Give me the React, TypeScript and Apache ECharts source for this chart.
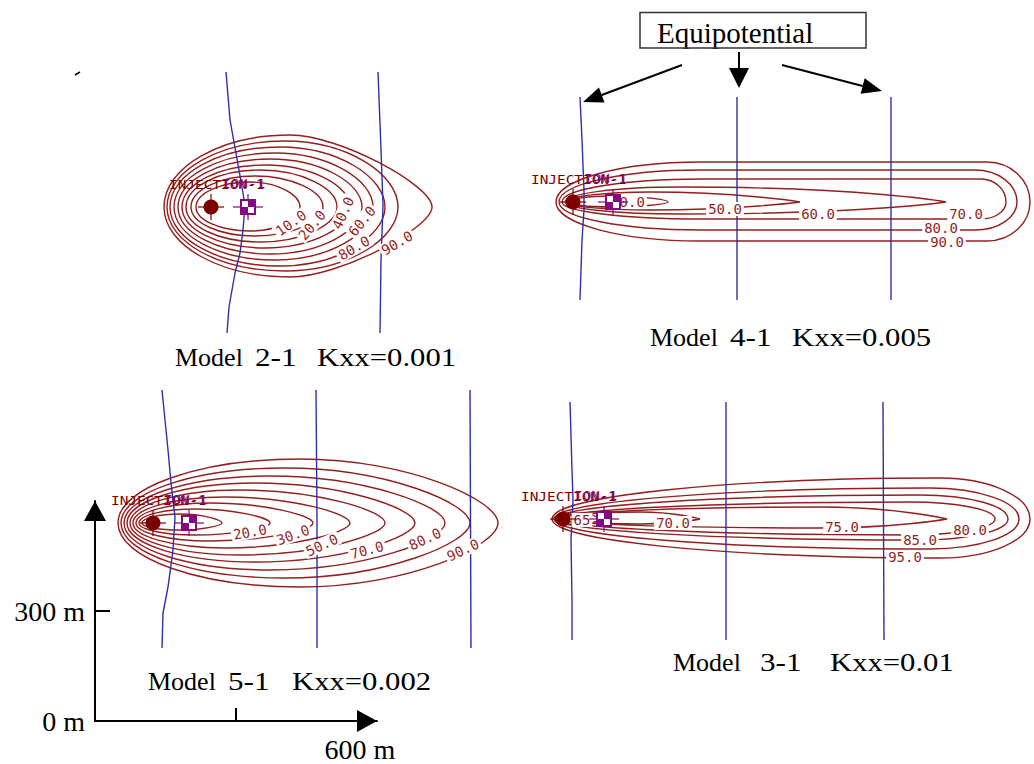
import React, { useEffect, useRef } from "react";
import * as echarts from "echarts";

// ---------- data (metres, measured from each model's injection well) ----------
// contour rows: [level, xLeft, xRight, yTop, yBottom, xCrest, xFlatEnd, capX, capY]
const contours21 = [
  [10, -30, 178, 50, -48, 78, 78, 0.55, 0.5],
  [20, -40, 224, 62, -58, 88, 88, 0.55, 0.5],
  [30, -50, 252, 74, -70, 98, 98, 0.55, 0.5],
  [40, -58, 278, 84, -82, 108, 108, 0.55, 0.5],
  [50, -66, 302, 96, -94, 118, 118, 0.55, 0.5],
  [60, -74, 324, 108, -106, 128, 128, 0.55, 0.5],
  [70, -82, 348, 120, -118, 138, 138, 0.55, 0.5],
  [80, -88, 374, 132, -128, 148, 148, 0.55, 0.5],
  [90, -94, 442, 144, -140, 158, 158, 0.35, 0.3],
];
const labelText21 = ["10.0", "20.0", "40.0", "60.0", "80.0", "90.0"];
const labelPos21 = [
  [160, -32, 35], [202, -36, 50], [264, -12, 65], [302, -28, 50], [286, -82, 30], [372, -72, 30],
];
const equip21 = [
  [[30, 270], [38, 174], [56, 74], [68, 4], [64, -46], [58, -92], [48, -132], [36, -200], [32, -252]],
  [[334, 270], [340, 114], [344, 4], [340, -106], [338, -252]],
];
const producer21 = [74, 0];

const contours41 = [
  [90, -34, 914, 80, -78, 254, 828, 0.552, 0.552],
  [80, -28, 888, 64, -56, 254, 804, 0.552, 0.552],
  [70, -22, 866, 46, -34, 254, 816, 0.552, 0.552],
  [60, -16, 746, 30, -24, 214, 214, 0.7, 0],
  [50, -12, 454, 20, -16, 154, 154, 0.6, 0],
  [40, -6, 190, 12, -10, 74, 74, 0.55, 0.4],
];
const labelText41 = ["40.0", "50.0", "60.0", "70.0", "80.0", "90.0"];
const labelPos41 = [
  [110, 0, 0], [304, -14, 0], [490, -24, 0], [786, -24, 0], [736, -52, 0], [748, -80, 0],
];
const equip41 = [
  [[14, 210], [18, 124], [22, 24], [22, -16], [18, -76], [14, -196]],
  [[328, 210], [328, -196]],
  [[636, 210], [636, -196]],
];
const producer41 = [80, 0];

const contours51 = [
  [10, -22, 138, 18, -14, 54, 54, 0.55, 0.35],
  [20, -28, 234, 28, -24, 84, 84, 0.55, 0.35],
  [30, -34, 320, 40, -36, 114, 114, 0.55, 0.35],
  [40, -40, 394, 52, -50, 144, 144, 0.55, 0.35],
  [50, -46, 464, 66, -64, 174, 174, 0.55, 0.35],
  [60, -52, 524, 80, -78, 204, 204, 0.55, 0.35],
  [70, -58, 584, 94, -94, 234, 234, 0.55, 0.35],
  [80, -64, 634, 110, -110, 264, 264, 0.55, 0.35],
  [90, -70, 690, 128, -128, 294, 294, 0.55, 0.35],
];
const labelText51 = ["20.0", "30.0", "50.0", "70.0", "80.0", "90.0"];
const labelPos51 = [
  [194, -18, 10], [280, -24, 20], [338, -44, 25], [428, -54, 15], [544, -32, 25], [620, -54, 25],
];
const equip51 = [
  [[18, 266], [30, 146], [36, 80], [44, 12], [40, -54], [30, -128], [20, -180], [18, -250]],
  [[326, 266], [328, 6], [328, -250]],
  [[634, 266], [636, -250]],
];
const producer51 = [72, 0];

const contours31 = [
  [95, -22, 934, 82, -78, 754, 754, 0.552, 0.552],
  [90, -18, 912, 62, -60, 734, 734, 0.552, 0.552],
  [85, -14, 890, 48, -42, 714, 714, 0.552, 0.552],
  [80, -10, 864, 34, -32, 694, 694, 0.552, 0.552],
  [75, -6, 768, 24, -18, 514, 514, 0.6, 0],
  [70, -2, 274, 14, -10, 154, 154, 0.6, 0],
  [65, -16, 70, 12, -12, 24, 24, 0.55, 0.5],
];
const labelText31 = ["65", "70.0", "75.0", "80.0", "85.0", "95.0"];
const labelPos31 = [
  [38, -2, 0], [220, -8, 0], [558, -16, 0], [814, -22, 0], [714, -42, 0], [684, -76, 0],
];
const equip31 = [
  [[14, 234], [18, 98], [20, 38], [16, -42], [18, -162], [18, -242]],
  [[326, 234], [326, -242]],
  [[640, 234], [642, -242]],
];
const producer31 = [82, 0];

const titleParts = [
  ["Model", "2-1", "Kxx=0.001"],
  ["Model", "4-1", "Kxx=0.005"],
  ["Model", "5-1", "Kxx=0.002"],
  ["Model", "3-1", "Kxx=0.01"],
];

// scale bar
const scaleTicks = [300];
const scaleXLabels = [600];
const scaleYLabels = [0, 300];

// ---------- styling ----------
const CONTOUR = "#931f1f";
const EQUIP = "#2f2fa8";
const WELL_RED = "#7d0000";
const WELL_PURPLE = "#84087f";
const SERIF = '"Liberation Serif", "Times New Roman", serif';
const MONO = '"DejaVu Sans Mono", monospace';

const panels = [
  { contours: contours21, labelText: labelText21, labelPos: labelPos21, equip: equip21, producer: producer21,
    grid: { left: 151, top: 57, width: 300, height: 285 }, x: [-120, 480], y: [-270, 300] },
  { contours: contours41, labelText: labelText41, labelPos: labelPos41, equip: equip41, producer: producer41,
    grid: { left: 518, top: 82, width: 515, height: 230 }, x: [-110, 920], y: [-220, 240] },
  { contours: contours51, labelText: labelText51, labelPos: labelPos51, equip: equip51, producer: producer51,
    grid: { left: 98, top: 383, width: 430, height: 270 }, x: [-110, 750], y: [-260, 280] },
  { contours: contours31, labelText: labelText31, labelPos: labelPos31, equip: equip31, producer: producer31,
    grid: { left: 508, top: 399, width: 525, height: 245 }, x: [-110, 940], y: [-250, 240] },
];

const K = 0.552;

function contourItem(_params: any, api: any) {
  const L = api.coord([api.value(1), 0]);
  const R = api.coord([api.value(2), 0]);
  const T = api.coord([api.value(5), api.value(3)]);
  const Bt = api.coord([api.value(5), api.value(4)]);
  const E = api.coord([api.value(6), 0]);
  const capX = api.value(7);
  const capY = api.value(8);
  const yc = L[1], xl = L[0], xr = R[0], xm = T[0];
  const xe = Math.max(E[0], xm);
  const yt = T[1], yb = Bt[1];
  const ht = yc - yt, hb = yb - yc;
  const cx = xe + capX * (xr - xe);
  const d = [
    `M${xl},${yc}`,
    `C${xl},${yc - K * ht} ${xm - K * (xm - xl)},${yt} ${xm},${yt}`,
    `L${xe},${yt}`,
    `C${cx},${yt} ${xr},${yc - capY * ht} ${xr},${yc}`,
    `C${xr},${yc + capY * hb} ${cx},${yb} ${xe},${yb}`,
    `L${xm},${yb}`,
    `C${xm - K * (xm - xl)},${yb} ${xl},${yc + K * hb} ${xl},${yc}`,
    "Z",
  ].join(" ");
  return {
    type: "path",
    shape: { pathData: d },
    style: { fill: "none", stroke: CONTOUR, lineWidth: 1.4 },
  };
}

function labelItem(texts: string[]) {
  return (params: any, api: any) => {
    const p = api.coord([api.value(0), api.value(1)]);
    return {
      type: "text",
      x: p[0],
      y: p[1],
      rotation: (api.value(2) * Math.PI) / 180,
      style: {
        text: texts[params.dataIndex],
        fill: CONTOUR,
        font: `14px ${MONO}`,
        align: "center",
        textAlign: "center",
        verticalAlign: "middle",
        textVerticalAlign: "middle",
        backgroundColor: "#fff",
        padding: [0, 2],
      },
    };
  };
}

function wellItem(_params: any, api: any) {
  const a = api.coord([0, 0]);
  const b = api.coord([api.value(0), api.value(1)]);
  const ln = (x1: number, y1: number, x2: number, y2: number, c: string) => ({
    type: "line",
    shape: { x1, y1, x2, y2 },
    style: { stroke: c, lineWidth: 1.2 },
  });
  const tx = a[0] - 42;
  const ty = a[1] - 22;
  return {
    type: "group",
    children: [
      ln(a[0] - 13, a[1], a[0] + 13, a[1], WELL_RED),
      ln(a[0], a[1] - 13, a[0], a[1] + 13, WELL_RED),
      { type: "circle", shape: { cx: a[0], cy: a[1], r: 7.5 }, style: { fill: WELL_RED } },
      ln(b[0] - 15, b[1], b[0] + 15, b[1], WELL_PURPLE),
      ln(b[0], b[1] - 13, b[0], b[1] + 13, WELL_PURPLE),
      { type: "rect", shape: { x: b[0] - 8, y: b[1] - 8, width: 16, height: 16 }, style: { fill: WELL_PURPLE } },
      { type: "rect", shape: { x: b[0] - 6, y: b[1] - 6, width: 6, height: 6 }, style: { fill: "#fff" } },
      { type: "rect", shape: { x: b[0], y: b[1], width: 6, height: 6 }, style: { fill: "#fff" } },
      {
        type: "text", x: tx, y: ty, scaleX: 1.2,
        style: { text: "INJECTION-1", fill: WELL_RED, font: `12px ${MONO}`, verticalAlign: "middle", textVerticalAlign: "middle" },
      },
      {
        type: "text", x: tx + 6 * 7.22 * 1.2 + 1, y: ty - 1, scaleX: 1.2,
        style: { text: "ION-1", fill: WELL_PURPLE, font: `12px ${MONO}`, verticalAlign: "middle", textVerticalAlign: "middle" },
      },
    ],
  };
}

function arrow(x1: number, y1: number, x2: number, y2: number, len: number, wid: number) {
  const dx = x2 - x1, dy = y2 - y1;
  const n = Math.hypot(dx, dy);
  const ux = dx / n, uy = dy / n;
  const bx = x2 - ux * len, by = y2 - uy * len;
  const px = -uy * (wid / 2), py = ux * (wid / 2);
  return [
    { type: "line", shape: { x1, y1, x2: bx, y2: by }, style: { stroke: "#000", lineWidth: 2 } },
    { type: "polygon", shape: { points: [[x2, y2], [bx + px, by + py], [bx - px, by - py]] }, style: { fill: "#000" } },
  ];
}

function serifText(text: string, x: number, y: number, size: number, sx = 1) {
  return {
    type: "text", x, y, scaleX: sx,
    style: {
      text, fill: "#000", font: `${size}px ${SERIF}`,
      align: "left", textAlign: "left", verticalAlign: "middle", textVerticalAlign: "middle",
    },
  };
}

// title word positions: [xModel, xRun, xKxx, yCenter]
const titleLayout = [
  [175, 255, 317, 357],
  [650, 730, 792, 337],
  [148, 228, 292, 681],
  [673, 760, 830, 662],
];

export default function App() {
  const ref = useRef<HTMLDivElement>(null);

  useEffect(() => {
    if (!ref.current) return;
    const chart = echarts.init(ref.current, undefined, { renderer: "svg" });

    const grids: any[] = panels.map((p) => ({ ...p.grid, outerBoundsMode: "none" }));
    grids.push({ left: 95, top: 501, width: 282, height: 220, outerBoundsMode: "none" });

    const xAxes: any[] = panels.map((p, i) => ({
      type: "value", gridIndex: i, min: p.x[0], max: p.x[1], show: false,
    }));
    const yAxes: any[] = panels.map((p, i) => ({
      type: "value", gridIndex: i, min: p.y[0], max: p.y[1], show: false,
    }));

    const axisText = { fontFamily: SERIF, fontSize: 28, color: "#000" };
    xAxes.push({
      type: "value", gridIndex: 4, min: 0, max: 600, position: "bottom",
      axisLine: {
        show: true, onZero: false, lineStyle: { color: "#000", width: 2 },
        symbol: ["none", "triangle"], symbolSize: [22, 20], symbolOffset: [0, -10],
      },
      axisTick: { show: true, inside: true, length: 13, customValues: scaleTicks, lineStyle: { color: "#000", width: 2 } },
      axisLabel: {
        show: true, customValues: scaleXLabels, formatter: "{value} m", margin: 14,
        padding: [0, 34, 0, 0], ...axisText,
      },
      splitLine: { show: false },
    });
    yAxes.push({
      type: "value", gridIndex: 4, min: 0, max: 600, position: "left",
      axisLine: {
        show: true, onZero: false, lineStyle: { color: "#000", width: 2 },
        symbol: ["none", "triangle"], symbolSize: [22, 20], symbolOffset: [0, -10],
      },
      axisTick: { show: true, inside: true, length: 15, customValues: scaleTicks, lineStyle: { color: "#000", width: 2 } },
      axisLabel: {
        show: true, customValues: scaleYLabels, formatter: "{value} m", margin: 10,
        padding: [16, 0, 0, 0], ...axisText,
      },
      splitLine: { show: false },
    });

    const series: any[] = [];
    panels.forEach((p, i) => {
      series.push({
        type: "custom", xAxisIndex: i, yAxisIndex: i, renderItem: contourItem,
        data: p.contours, encode: { x: 1, y: 3 }, clip: false, z: 2, silent: true,
      });
      p.equip.forEach((line) => {
        series.push({
          type: "line", xAxisIndex: i, yAxisIndex: i, data: line, showSymbol: false, symbol: "none",
          lineStyle: { color: EQUIP, width: 1.4 }, z: 3, silent: true,
        });
      });
      series.push({
        type: "custom", xAxisIndex: i, yAxisIndex: i, renderItem: labelItem(p.labelText),
        data: p.labelPos, encode: { x: 0, y: 1 }, clip: false, z: 4, silent: true,
      });
      series.push({
        type: "custom", xAxisIndex: i, yAxisIndex: i, renderItem: wellItem,
        data: [p.producer], encode: { x: 0, y: 1 }, clip: false, z: 5, silent: true,
      });
    });

    const graphics: any[] = [];
    titleParts.forEach((parts, i) => {
      const [a, b, c, y] = titleLayout[i];
      graphics.push(serifText(parts[0], a, y, 26));
      graphics.push(serifText(parts[1], b, y, 26, 1.2));
      graphics.push(serifText(parts[2], c, y, 26, 1.18));
    });
    graphics.push(serifText("Equipotential", 657, 33, 29));
    graphics.push({ type: "rect", shape: { x: 641, y: 49, width: 226, height: 6 }, style: { fill: "#fff" } });
    graphics.push({
      type: "rect", shape: { x: 640, y: 12.5, width: 226, height: 35.5 },
      style: { fill: "none", stroke: "#333", lineWidth: 1.5 },
    });
    graphics.push(...arrow(682, 65, 583, 102, 20, 16));
    graphics.push(...arrow(739, 52, 739, 88, 20, 20));
    graphics.push(...arrow(782, 65, 882, 91, 20, 16));
    graphics.push({ type: "line", shape: { x1: 75, y1: 75, x2: 80, y2: 72 }, style: { stroke: "#000", lineWidth: 1.5 } });

    chart.setOption({
      animation: false,
      backgroundColor: "#fff",
      grid: grids,
      xAxis: xAxes,
      yAxis: yAxes,
      series,
      graphic: graphics,
    });

    return () => chart.dispose();
  }, []);

  return (
    <div
      ref={ref}
      style={{ position: "fixed", left: 0, top: 0, width: 1034, height: 764, background: "#fff" }}
    />
  );
}
